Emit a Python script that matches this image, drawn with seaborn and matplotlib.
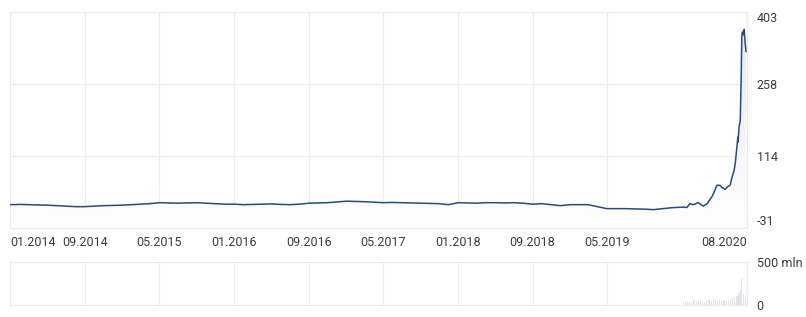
import numpy as np
import pandas as pd
import matplotlib
matplotlib.use("Agg")
import matplotlib.pyplot as plt
import matplotlib.dates as mdates
from matplotlib.colors import LinearSegmentedColormap
import seaborn as sns

# ---------------- data ----------------
price_dates = [
    "2014-01-01", "2014-02-01", "2014-03-01", "2014-04-01", "2014-05-01", "2014-06-01",
    "2014-07-01", "2014-08-01", "2014-09-01", "2014-10-01", "2014-11-01", "2014-12-01",
    "2015-01-01", "2015-02-01", "2015-03-01", "2015-04-01", "2015-05-01", "2015-06-01",
    "2015-07-01", "2015-08-01", "2015-09-01", "2015-10-01", "2015-11-01", "2015-12-01",
    "2016-01-01", "2016-02-01", "2016-03-01", "2016-04-01", "2016-05-01", "2016-06-01",
    "2016-07-01", "2016-08-01", "2016-09-01", "2016-10-01", "2016-11-01", "2016-12-01",
    "2017-01-01", "2017-02-01", "2017-03-01", "2017-04-01", "2017-05-01", "2017-06-01",
    "2017-07-01", "2017-08-01", "2017-09-01", "2017-10-01", "2017-11-01", "2017-12-01",
    "2018-01-01", "2018-02-01", "2018-03-01", "2018-04-01", "2018-05-01", "2018-06-01",
    "2018-07-01", "2018-08-01", "2018-09-01", "2018-10-01", "2018-11-01", "2018-12-01",
    "2019-01-01", "2019-02-01", "2019-03-01", "2019-04-01", "2019-05-01", "2019-06-01",
    "2019-07-01", "2019-08-01", "2019-09-01", "2019-10-01", "2019-11-01", "2019-12-01",
    "2020-01-05", "2020-01-18", "2020-01-28", "2020-02-05", "2020-02-13", "2020-02-23",
    "2020-03-04", "2020-03-11", "2020-03-24", "2020-04-09", "2020-04-19", "2020-04-25",
    "2020-05-05", "2020-05-12", "2020-05-22", "2020-05-31", "2020-06-07", "2020-06-13",
    "2020-06-20", "2020-06-24", "2020-06-29", "2020-07-02", "2020-07-03", "2020-07-06",
    "2020-07-10", "2020-07-13", "2020-07-15", "2020-07-17", "2020-07-20", "2020-07-23",
    "2020-07-26", "2020-07-29",
]
price_values = [
    15, 15.5, 15, 14.5, 14, 13, 12, 11, 11, 12, 13, 13.5,
    14, 15, 16, 17, 19, 18.5, 18, 18.5, 19, 18, 17, 16,
    16, 15, 15.5, 16, 16.5, 15.5, 15, 16, 18, 18.5, 19, 20.5,
    22, 21.5, 21, 20, 19, 19.5, 19, 18.5, 18, 17.5, 17, 15,
    19, 18.5, 18, 19, 19, 18.5, 19, 18, 16, 17, 15, 13,
    15, 15, 15, 11, 7, 7, 7, 6.5, 6, 5, 7, 9,
    10, 9.4, 17.4, 15, 16, 19.5,
    15, 12, 17, 31.6, 45, 54,
    54, 49, 46, 52, 54, 70,
    84, 100, 131, 151, 141, 171,
    185, 272, 353, 363, 357, 368,
    340, 323,
]

vol_dates = [
    "2020-01-06", "2020-01-13", "2020-01-20", "2020-01-27", "2020-02-03", "2020-02-10",
    "2020-02-17", "2020-02-24", "2020-03-02", "2020-03-09", "2020-03-16", "2020-03-23",
    "2020-03-30", "2020-04-06", "2020-04-13", "2020-04-20", "2020-04-27", "2020-05-04",
    "2020-05-11", "2020-05-18", "2020-05-25", "2020-06-01", "2020-06-08", "2020-06-15",
    "2020-06-22", "2020-06-29", "2020-07-06", "2020-07-10", "2020-07-14", "2020-07-20",
    "2020-07-27",
]
vol_values = [
    20, 45, 50, 40, 35, 55, 40, 60, 45, 50, 40, 55,
    60, 45, 65, 70, 50, 55, 45, 60, 50, 55, 70, 80,
    90, 110, 140, 180, 310, 120, 90,
]

x_tick_dates = ["2014-01-01", "2014-09-01", "2015-05-01", "2016-01-01", "2016-09-01",
                "2017-05-01", "2018-01-01", "2018-09-01", "2019-05-01", "2020-08-01"]
x_tick_labels = ["01.2014", "09.2014", "05.2015", "01.2016", "09.2016",
                 "05.2017", "01.2018", "09.2018", "05.2019", "08.2020"]
y_ticks = [-31, 114, 258, 403]
y_tick_labels = ["-31", "114", "258", "403"]
vol_ticks = [0, 500]
vol_tick_labels = ["0", "500 mln"]

# ---------------- style ----------------
sns.set_theme(style="white")
plt.rcParams['font.family'] = ['Roboto', 'DejaVu Sans']

LINE = "#2b4a7d"
GRID = "#ebebeb"
TEXT = "#3c3c3c"

fig = plt.figure(figsize=(8.06, 3.17), dpi=100)
ax = fig.add_axes([0.013, 0.2823, 0.9138, 0.6798])
axv = fig.add_axes([0.013, 0.0379, 0.9138, 0.1356])

df = pd.DataFrame({"date": pd.to_datetime(price_dates), "value": price_values})
dfv = pd.DataFrame({"date": pd.to_datetime(vol_dates), "volume": vol_values})

xmin = mdates.date2num(pd.Timestamp(x_tick_dates[0]))
xmax = mdates.date2num(pd.Timestamp(x_tick_dates[-1]))
ymin, ymax = y_ticks[0], y_ticks[-1]

# gradient area under the line
xs = mdates.date2num(df["date"])
poly = ax.fill_between(xs, df["value"], ymin, color="none", lw=0)
grad = np.linspace(0, 1, 256).reshape(-1, 1)
cmap = LinearSegmentedColormap.from_list("g", ["#ffffff", "#e4e8f4"])
im = ax.imshow(grad, extent=[xmin, xmax, ymin, ymax], origin="lower",
               aspect="auto", cmap=cmap, zorder=1)
im.set_clip_path(poly.get_paths()[0], transform=ax.transData)

sns.lineplot(data=df, x="date", y="value", ax=ax, color=LINE, linewidth=1.1, zorder=3)

ax.set_xlim(xmin, xmax)
ax.set_ylim(ymin, ymax)
ax.set_xlabel("")
ax.set_ylabel("")

tick_nums = [mdates.date2num(pd.Timestamp(d)) for d in x_tick_dates]
ax.set_xticks(tick_nums)
ax.set_xticklabels(x_tick_labels)
ax.yaxis.tick_right()
ax.set_yticks(y_ticks)
ax.set_yticklabels(y_tick_labels)
ax.tick_params(axis="x", length=0, pad=6, labelsize=9, colors=TEXT)
ax.tick_params(axis="y", length=0, pad=7, labelsize=9, colors=TEXT)
xl = ax.get_xticklabels()
xl[0].set_ha("left")
xl[-1].set_ha("right")
yl = ax.get_yticklabels()
yl[0].set_va("bottom")
yl[-1].set_va("top")
ax.grid(True, color=GRID, linewidth=0.8)
ax.set_axisbelow(True)
for s in ax.spines.values():
    s.set_visible(True)
    s.set_color(GRID)
    s.set_linewidth(0.8)

# volume panel
axv.bar(mdates.date2num(dfv["date"]), dfv["volume"], width=4, color="#e2e3e9", lw=0, zorder=2)
axv.set_xlim(xmin, xmax)
axv.set_ylim(vol_ticks[0], vol_ticks[-1])
axv.set_xticks(tick_nums)
axv.set_xticklabels([])
axv.yaxis.tick_right()
axv.set_yticks(vol_ticks)
axv.set_yticklabels(vol_tick_labels)
axv.tick_params(axis="x", length=0)
axv.tick_params(axis="y", length=0, pad=7, labelsize=9, colors=TEXT)
axv.grid(True, axis="x", color=GRID, linewidth=0.8)
axv.set_axisbelow(True)
for s in axv.spines.values():
    s.set_visible(True)
    s.set_color(GRID)
    s.set_linewidth(0.8)

fig.savefig("out.png", dpi=100)
